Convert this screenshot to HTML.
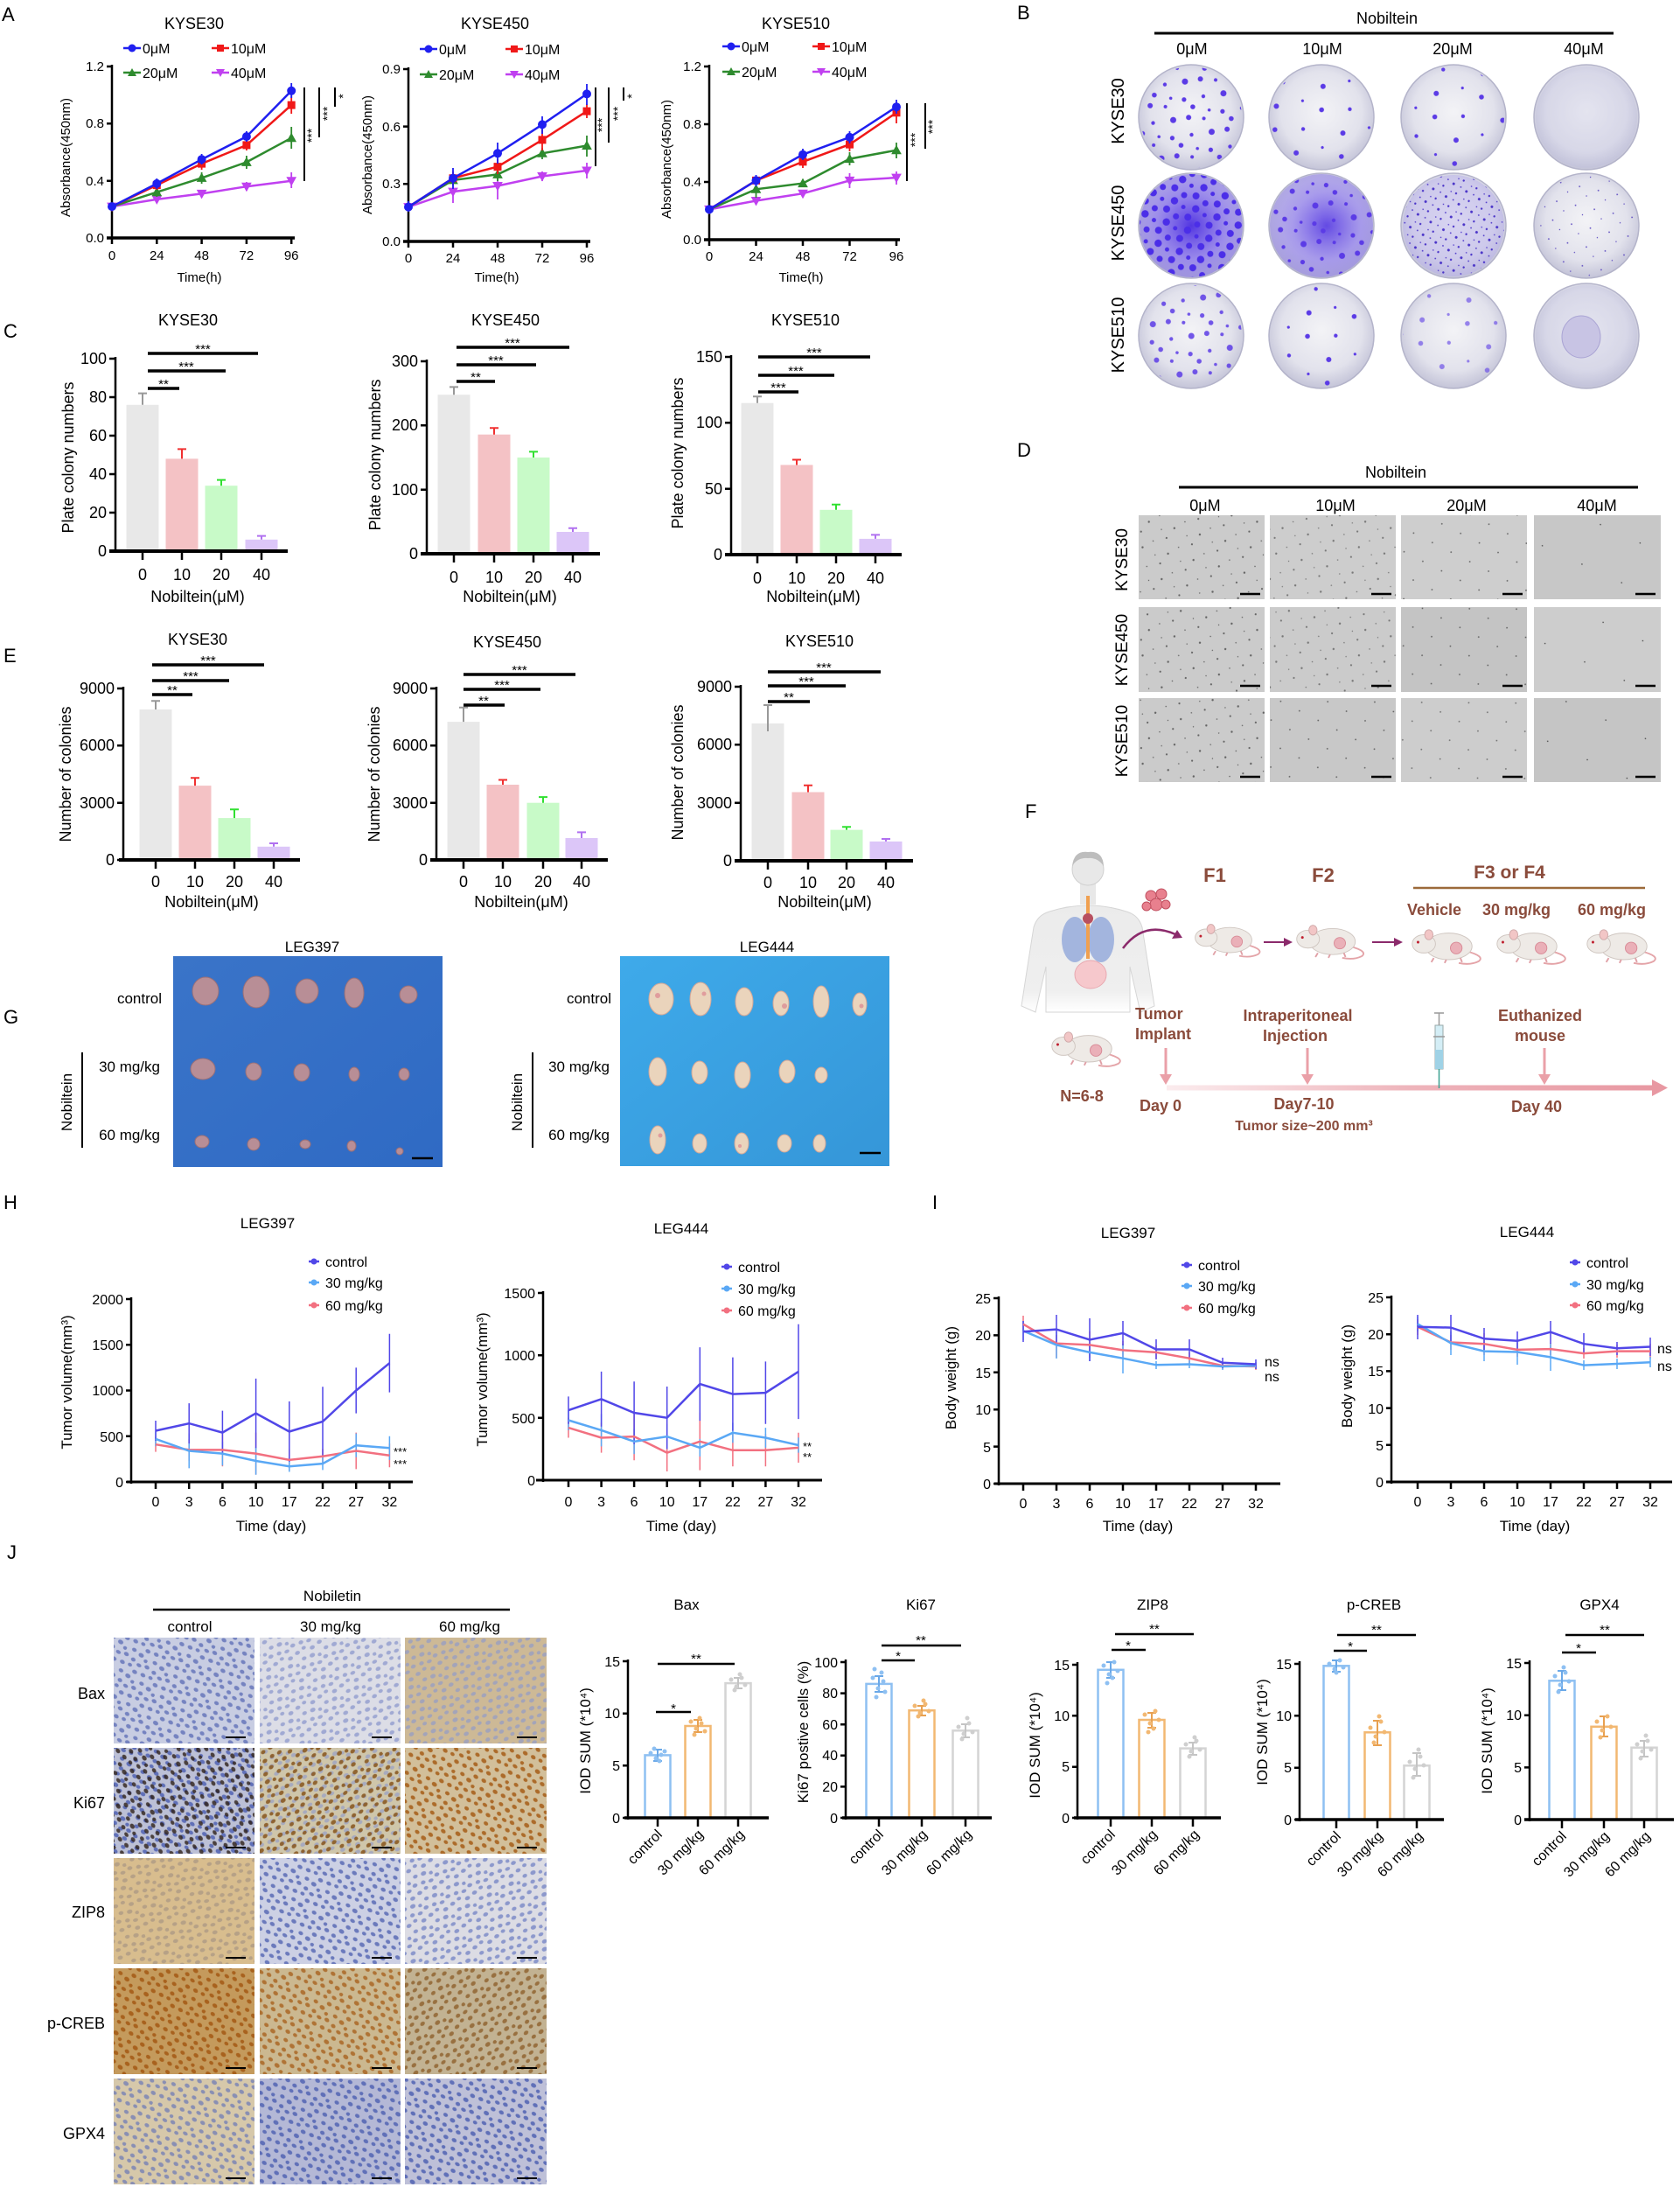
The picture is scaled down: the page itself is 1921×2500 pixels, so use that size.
<!DOCTYPE html>
<html><head><meta charset="utf-8"><style>
html,body{margin:0;padding:0;background:#fff;}
svg{display:block;}
text{font-family:"Liberation Sans",Arial,sans-serif;fill:#000;}
.f text{fill:#8a4b3b;font-weight:bold;}
</style></head><body>
<svg xmlns="http://www.w3.org/2000/svg" width="1921" height="2500" viewBox="0 0 1921 2500">
<defs>
<circle id="mc" r="4.5"/>
<path id="ms" d="M-4,-4h8v8h-8z"/>
<path id="mt" d="M0,-5L5,4H-5z"/>
<path id="mv" d="M0,5L5,-4H-5z"/>
<radialGradient id="pl" cx="50%" cy="45%" r="55%"><stop offset="0" stop-color="#f3f3f6"/><stop offset="0.7" stop-color="#e2e2ec"/><stop offset="1" stop-color="#c4c4d8"/></radialGradient>
<radialGradient id="heavy" cx="50%" cy="50%" r="55%"><stop offset="0" stop-color="#4a2ce0" stop-opacity="0.95"/><stop offset="0.6" stop-color="#6a50e8" stop-opacity="0.6"/><stop offset="1" stop-color="#7a66e0" stop-opacity="0.45"/></radialGradient>
<radialGradient id="heavy2" cx="55%" cy="50%" r="55%"><stop offset="0" stop-color="#4a2ce0" stop-opacity="0.85"/><stop offset="0.6" stop-color="#6a50e8" stop-opacity="0.5"/><stop offset="1" stop-color="#7a66e0" stop-opacity="0.4"/></radialGradient>
<pattern id="cb1" width="46" height="46" patternUnits="userSpaceOnUse" patternTransform="rotate(17)"><g fill="#5b3be6"><circle cx="5" cy="7" r="3"/><circle cx="22" cy="3" r="2"/><circle cx="35" cy="15" r="3.5"/><circle cx="14" cy="25" r="2.2"/><circle cx="40" cy="35" r="2.6"/><circle cx="25" cy="38" r="1.8"/><circle cx="6" cy="40" r="2.8"/></g></pattern>
<pattern id="cb2" width="58" height="58" patternUnits="userSpaceOnUse" patternTransform="rotate(-23)"><g fill="#5b3be6"><circle cx="8" cy="10" r="2.8"/><circle cx="38" cy="22" r="2.2"/><circle cx="20" cy="44" r="3"/><circle cx="50" cy="50" r="1.6"/></g></pattern>
<pattern id="cb3" width="17" height="17" patternUnits="userSpaceOnUse" patternTransform="rotate(31)"><g fill="#4a34c8"><circle cx="3" cy="4" r="1.5"/><circle cx="11" cy="12" r="1.2"/><circle cx="12" cy="3" r="0.9"/><circle cx="5" cy="13" r="0.8"/></g></pattern>
<pattern id="cb4" width="22" height="22" patternUnits="userSpaceOnUse" patternTransform="rotate(12)"><g fill="#5a48c0"><circle cx="7" cy="9" r="0.9"/><circle cx="17" cy="18" r="0.7"/></g></pattern>
<pattern id="cb5" width="26" height="26" patternUnits="userSpaceOnUse" patternTransform="rotate(21)"><g fill="#4b2ee8"><circle cx="5" cy="5" r="4"/><circle cx="18" cy="9" r="3.5"/><circle cx="10" cy="19" r="4.2"/><circle cx="22" cy="22" r="2.5"/></g></pattern>
<pattern id="d1" width="30" height="30" patternUnits="userSpaceOnUse" patternTransform="rotate(14)"><g fill="#4a4a4a"><circle cx="3" cy="4" r="1.1"/><circle cx="19" cy="11" r="0.8"/><circle cx="9" cy="21" r="1.2"/><circle cx="25" cy="26" r="0.7"/></g></pattern>
<pattern id="d2" width="34" height="34" patternUnits="userSpaceOnUse" patternTransform="rotate(-18)"><g fill="#444"><circle cx="6" cy="8" r="0.9"/><circle cx="23" cy="25" r="0.9"/></g></pattern>
<pattern id="d3" width="50" height="50" patternUnits="userSpaceOnUse" patternTransform="rotate(25)"><circle cx="12" cy="20" r="0.8" fill="#444"/></pattern>
<g id="nuc"><ellipse cx="4" cy="5" rx="3" ry="2.2"/><ellipse cx="13" cy="3" rx="2.6" ry="2"/><ellipse cx="22" cy="7" rx="3" ry="2.3"/><ellipse cx="8" cy="14" rx="2.8" ry="2.1"/><ellipse cx="18" cy="15" rx="3.2" ry="2.4"/><ellipse cx="26" cy="18" rx="2.4" ry="2"/><ellipse cx="3" cy="23" rx="3" ry="2.2"/><ellipse cx="13" cy="24" rx="2.8" ry="2.2"/><ellipse cx="22" cy="26" rx="3" ry="2"/></g>
<pattern id="nBlue" width="28" height="28" patternUnits="userSpaceOnUse" patternTransform="rotate(33)"><use href="#nuc" fill="#6070b8"/></pattern>
<pattern id="nLBlue" width="28" height="28" patternUnits="userSpaceOnUse" patternTransform="translate(7,11) rotate(-27)"><use href="#nuc" fill="#8c98cc"/></pattern>
<pattern id="nBrown" width="28" height="28" patternUnits="userSpaceOnUse" patternTransform="translate(3,5) rotate(-40)"><use href="#nuc" fill="#8a5a24"/></pattern>
<pattern id="nDark" width="28" height="28" patternUnits="userSpaceOnUse" patternTransform="translate(13,9) rotate(55)"><use href="#nuc" fill="#2e2018"/></pattern>
<pattern id="nOrange" width="28" height="28" patternUnits="userSpaceOnUse" patternTransform="translate(5,2) rotate(38)"><use href="#nuc" fill="#a8621e"/></pattern>
<pattern id="nTan" width="28" height="28" patternUnits="userSpaceOnUse" patternTransform="translate(9,4) rotate(-15)"><use href="#nuc" fill="#9a8a80"/></pattern>
<linearGradient id="tl" x1="0" x2="1" y1="0" y2="0"><stop offset="0" stop-color="#fbecee"/><stop offset="0.5" stop-color="#eeb4bb"/><stop offset="1" stop-color="#e898a2"/></linearGradient>
<linearGradient id="g397" x1="0" x2="1" y1="0" y2="1"><stop offset="0" stop-color="#3a74c8"/><stop offset="1" stop-color="#2f6ac4"/></linearGradient>
<linearGradient id="g444" x1="0" x2="1" y1="0" y2="1"><stop offset="0" stop-color="#3eaaea"/><stop offset="1" stop-color="#3596d8"/></linearGradient>
<linearGradient id="torso" x1="0" x2="0" y1="0" y2="1"><stop offset="0" stop-color="#ebebeb"/><stop offset="0.8" stop-color="#efefef"/><stop offset="1" stop-color="#ffffff"/></linearGradient>
<g id="mouse">
<path d="M70,30 Q92,36 84,42 Q74,47 60,44" fill="none" stroke="#e4a4a8" stroke-width="2"/>
<ellipse cx="48" cy="24" rx="28" ry="16" fill="#eeeae6" stroke="#cfc6c0" stroke-width="1"/>
<ellipse cx="18" cy="21" rx="14" ry="11" fill="#eeeae6" stroke="#cfc6c0" stroke-width="1"/>
<ellipse cx="24" cy="10" rx="5" ry="6" fill="#f2c6c6" stroke="#cfa8a8" stroke-width="1"/>
<circle cx="11" cy="19" r="1.6" fill="#c02030"/>
<circle cx="57" cy="26" r="7" fill="#eab0b8" stroke="#d88a96" stroke-width="1"/>
<path d="M30,38 l-3,5 M45,40 l-2,4 M62,38 l2,5" stroke="#e0a0a6" stroke-width="2"/>
</g>
</defs>

<!-- ================= PANEL A ================= -->
<text x="2" y="24" font-size="22">A</text>
<g font-size="18" text-anchor="middle"><text x="222" y="33">KYSE30</text><text x="566" y="33">KYSE450</text><text x="910" y="33">KYSE510</text></g>
<g font-size="16">
<path d="M141,55h20" stroke="#1f1ff0" stroke-width="2.5"/><use href="#mc" x="151" y="55" fill="#1f1ff0"/><text x="163" y="61">0μM</text>
<path d="M242,55h20" stroke="#f01818" stroke-width="2.5"/><use href="#ms" x="252" y="55" fill="#f01818"/><text x="264" y="61">10μM</text>
<path d="M141,83h20" stroke="#2e8b2e" stroke-width="2.5"/><use href="#mt" x="151" y="83" fill="#2e8b2e"/><text x="163" y="89">20μM</text>
<path d="M242,83h20" stroke="#c040f0" stroke-width="2.5"/><use href="#mv" x="252" y="83" fill="#c040f0"/><text x="264" y="89">40μM</text>
<path d="M480,56h20" stroke="#1f1ff0" stroke-width="2.5"/><use href="#mc" x="490" y="56" fill="#1f1ff0"/><text x="502" y="62">0μM</text>
<path d="M578,56h20" stroke="#f01818" stroke-width="2.5"/><use href="#ms" x="588" y="56" fill="#f01818"/><text x="600" y="62">10μM</text>
<path d="M480,85h20" stroke="#2e8b2e" stroke-width="2.5"/><use href="#mt" x="490" y="85" fill="#2e8b2e"/><text x="502" y="91">20μM</text>
<path d="M578,85h20" stroke="#c040f0" stroke-width="2.5"/><use href="#mv" x="588" y="85" fill="#c040f0"/><text x="600" y="91">40μM</text>
<path d="M826,53h20" stroke="#1f1ff0" stroke-width="2.5"/><use href="#mc" x="836" y="53" fill="#1f1ff0"/><text x="848" y="59">0μM</text>
<path d="M929,53h20" stroke="#f01818" stroke-width="2.5"/><use href="#ms" x="939" y="53" fill="#f01818"/><text x="951" y="59">10μM</text>
<path d="M826,82h20" stroke="#2e8b2e" stroke-width="2.5"/><use href="#mt" x="836" y="82" fill="#2e8b2e"/><text x="848" y="88">20μM</text>
<path d="M929,82h20" stroke="#c040f0" stroke-width="2.5"/><use href="#mv" x="939" y="82" fill="#c040f0"/><text x="951" y="88">40μM</text>
</g>
<!-- axes A -->
<g stroke="#000" fill="none" stroke-width="2.5">
<path d="M128,74V273M122,76h6M122,141.3h6M122,206.7h6M122,272h6"/>
<path d="M122,272H337" stroke-width="3.5"/>
<path d="M128,272v7M179.3,272v7M230.6,272v7M281.9,272v7M333.2,272v7"/>
<path d="M467,77V277M461,79h6M461,144.6h6M461,210.3h6M461,276h6"/>
<path d="M461,276H675" stroke-width="3.5"/>
<path d="M467,276v7M518,276v7M569,276v7M620,276v7M671,276v7"/>
<path d="M811,74V275M805,76h6M805,142h6M805,208h6M805,274h6"/>
<path d="M805,274H1029" stroke-width="3.5"/>
<path d="M811,274v7M864.5,274v7M918,274v7M971.5,274v7M1025,274v7"/>
<path d="M348,100V207M365,100V157M383,100V122" stroke-width="2"/>
<path d="M681,100V190M696,100V163M713,100V115" stroke-width="2"/>
<path d="M1037,118V207M1058,118V170" stroke-width="2"/>
</g>
<g font-size="15" text-anchor="end"><text x="119" y="81">1.2</text><text x="119" y="146">0.8</text><text x="119" y="212">0.4</text><text x="119" y="277">0.0</text>
<text x="458" y="84">0.9</text><text x="458" y="150">0.6</text><text x="458" y="215">0.3</text><text x="458" y="281">0.0</text>
<text x="802" y="81">1.2</text><text x="802" y="147">0.8</text><text x="802" y="213">0.4</text><text x="802" y="279">0.0</text></g>
<g font-size="15" text-anchor="middle"><text x="128" y="297">0</text><text x="179.3" y="297">24</text><text x="230.6" y="297">48</text><text x="281.9" y="297">72</text><text x="333.2" y="297">96</text>
<text x="467" y="300">0</text><text x="518" y="300">24</text><text x="569" y="300">48</text><text x="620" y="300">72</text><text x="671" y="300">96</text>
<text x="811" y="298">0</text><text x="864.5" y="298">24</text><text x="918" y="298">48</text><text x="971.5" y="298">72</text><text x="1025" y="298">96</text>
<text x="228" y="322">Time(h)</text><text x="568" y="322">Time(h)</text><text x="916" y="322">Time(h)</text>
<text transform="translate(80,180) rotate(-90)">Absorbance(450nm)</text>
<text transform="translate(425,177) rotate(-90)">Absorbance(450nm)</text>
<text transform="translate(767,182) rotate(-90)">Absorbance(450nm)</text>
<text transform="translate(361,155) rotate(-90)" font-size="14">***</text>
<text transform="translate(379,130) rotate(-90)" font-size="14">***</text>
<text transform="translate(397,110) rotate(-90)" font-size="14">*</text>
<text transform="translate(693,143) rotate(-90)" font-size="14">***</text>
<text transform="translate(711,130) rotate(-90)" font-size="14">***</text>
<text transform="translate(727,110) rotate(-90)" font-size="14">*</text>
<text transform="translate(1051,160) rotate(-90)" font-size="14">***</text>
<text transform="translate(1071,145) rotate(-90)" font-size="14">***</text>
</g>
<!-- series A1 -->
<g stroke="#c040f0" fill="#c040f0"><polyline fill="none" stroke-width="2.5" points="128,236.1 179.3,227.9 230.6,221.4 281.9,213.2 333.2,206.7"/><path fill="none" stroke-width="1.8" d="M179.3,224v8M230.6,217v9M281.9,208v10M333.2,197v18"/><use href="#mv" x="128" y="236.1"/><use href="#mv" x="179.3" y="227.9"/><use href="#mv" x="230.6" y="221.4"/><use href="#mv" x="281.9" y="213.2"/><use href="#mv" x="333.2" y="206.7"/></g>
<g stroke="#2e8b2e" fill="#2e8b2e"><polyline fill="none" stroke-width="2.5" points="128,236.1 179.3,219.7 230.6,203.4 281.9,185.4 333.2,157.7"/><path fill="none" stroke-width="1.8" d="M179.3,214v11M230.6,197v13M281.9,178v15M333.2,145v25"/><use href="#mt" x="179.3" y="219.7"/><use href="#mt" x="230.6" y="203.4"/><use href="#mt" x="281.9" y="185.4"/><use href="#mt" x="333.2" y="157.7"/></g>
<g stroke="#f01818" fill="#f01818"><polyline fill="none" stroke-width="2.5" points="128,236.1 179.3,211.6 230.6,187.1 281.9,165.9 333.2,120.1"/><path fill="none" stroke-width="1.8" d="M179.3,206v11M230.6,180v14M281.9,160v12M333.2,110v20"/><use href="#ms" x="179.3" y="211.6"/><use href="#ms" x="230.6" y="187.1"/><use href="#ms" x="281.9" y="165.9"/><use href="#ms" x="333.2" y="120.1"/></g>
<g stroke="#1f1ff0" fill="#1f1ff0"><polyline fill="none" stroke-width="2.5" points="128,236.1 179.3,209.9 230.6,182.2 281.9,156.1 333.2,103.8"/><path fill="none" stroke-width="1.8" d="M179.3,204v12M230.6,176v12M281.9,150v12M333.2,95v17"/><use href="#mc" x="128" y="236.1"/><use href="#mc" x="179.3" y="209.9"/><use href="#mc" x="230.6" y="182.2"/><use href="#mc" x="281.9" y="156.1"/><use href="#mc" x="333.2" y="103.8"/></g>
<!-- series A2 -->
<g stroke="#c040f0" fill="#c040f0"><polyline fill="none" stroke-width="2.5" points="467,236.6 518,219.1 569,212.5 620,201.5 671,195"/><path fill="none" stroke-width="1.8" d="M518,206v26M569,198v30M620,196v11M671,186v18"/><use href="#mv" x="467" y="236.6"/><use href="#mv" x="518" y="219.1"/><use href="#mv" x="569" y="212.5"/><use href="#mv" x="620" y="201.5"/><use href="#mv" x="671" y="195"/></g>
<g stroke="#2e8b2e" fill="#2e8b2e"><polyline fill="none" stroke-width="2.5" points="467,236.6 518,205.9 569,199.4 620,175.3 671,166.5"/><path fill="none" stroke-width="1.8" d="M518,200v12M569,192v15M620,169v13M671,155v24"/><use href="#mt" x="518" y="205.9"/><use href="#mt" x="569" y="199.4"/><use href="#mt" x="620" y="175.3"/><use href="#mt" x="671" y="166.5"/></g>
<g stroke="#f01818" fill="#f01818"><polyline fill="none" stroke-width="2.5" points="467,236.6 518,203.7 569,190.6 620,159.9 671,127.1"/><path fill="none" stroke-width="1.8" d="M518,196v15M569,182v17M620,148v24M671,119v16"/><use href="#ms" x="518" y="203.7"/><use href="#ms" x="569" y="190.6"/><use href="#ms" x="620" y="159.9"/><use href="#ms" x="671" y="127.1"/></g>
<g stroke="#1f1ff0" fill="#1f1ff0"><polyline fill="none" stroke-width="2.5" points="467,236.6 518,203.7 569,175.3 620,142.4 671,107.4"/><path fill="none" stroke-width="1.8" d="M467,230v12M518,192v24M569,163v24M620,133v20M671,96v24"/><use href="#mc" x="467" y="236.6"/><use href="#mc" x="518" y="203.7"/><use href="#mc" x="569" y="175.3"/><use href="#mc" x="620" y="142.4"/><use href="#mc" x="671" y="107.4"/></g>
<!-- series A3 -->
<g stroke="#c040f0" fill="#c040f0"><polyline fill="none" stroke-width="2.5" points="811,239.4 864.5,229.5 918,221.2 971.5,206.4 1025,203.1"/><path fill="none" stroke-width="1.8" d="M864.5,225v9M918,217v8M971.5,198v17M1025,196v15"/><use href="#mv" x="811" y="239.4"/><use href="#mv" x="864.5" y="229.5"/><use href="#mv" x="918" y="221.2"/><use href="#mv" x="971.5" y="206.4"/><use href="#mv" x="1025" y="203.1"/></g>
<g stroke="#2e8b2e" fill="#2e8b2e"><polyline fill="none" stroke-width="2.5" points="811,239.4 864.5,216.3 918,209.6 971.5,181.6 1025,171.7"/><path fill="none" stroke-width="1.8" d="M864.5,206v20M918,205v9M971.5,174v15M1025,163v18"/><use href="#mt" x="864.5" y="216.3"/><use href="#mt" x="918" y="209.6"/><use href="#mt" x="971.5" y="181.6"/><use href="#mt" x="1025" y="171.7"/></g>
<g stroke="#f01818" fill="#f01818"><polyline fill="none" stroke-width="2.5" points="811,239.4 864.5,206.4 918,184.9 971.5,165.1 1025,128.8"/><path fill="none" stroke-width="1.8" d="M918,178v14M971.5,158v15M1025,117v24"/><use href="#ms" x="864.5" y="206.4"/><use href="#ms" x="918" y="184.9"/><use href="#ms" x="971.5" y="165.1"/><use href="#ms" x="1025" y="128.8"/></g>
<g stroke="#1f1ff0" fill="#1f1ff0"><polyline fill="none" stroke-width="2.5" points="811,239.4 864.5,206.4 918,176.7 971.5,156.9 1025,122.2"/><path fill="none" stroke-width="1.8" d="M864.5,200v13M918,170v13M971.5,150v14M1025,114v16"/><use href="#mc" x="811" y="239.4"/><use href="#mc" x="864.5" y="206.4"/><use href="#mc" x="918" y="176.7"/><use href="#mc" x="971.5" y="156.9"/><use href="#mc" x="1025" y="122.2"/></g>

<!-- ================= PANEL B ================= -->
<text x="1163" y="22" font-size="22">B</text>
<text x="1586" y="27" font-size="18" text-anchor="middle">Nobiltein</text>
<path d="M1320,38H1845" stroke="#000" stroke-width="3"/>
<g font-size="18" text-anchor="middle"><text x="1363" y="62">0μM</text><text x="1512" y="62">10μM</text><text x="1661" y="62">20μM</text><text x="1811" y="62">40μM</text>
<text transform="translate(1285,127) rotate(-90)" font-size="20">KYSE30</text>
<text transform="translate(1285,255) rotate(-90)" font-size="20">KYSE450</text>
<text transform="translate(1285,383) rotate(-90)" font-size="20">KYSE510</text></g>
<g stroke="#b4b4ca" stroke-width="1.5" fill="url(#pl)">
<ellipse cx="1362" cy="134" rx="60" ry="60"/><ellipse cx="1511" cy="134" rx="60" ry="60"/><ellipse cx="1662" cy="134" rx="60" ry="60"/><ellipse cx="1814" cy="134" rx="60" ry="60"/>
<ellipse cx="1362" cy="258" rx="60" ry="60"/><ellipse cx="1511" cy="258" rx="60" ry="60"/><ellipse cx="1662" cy="258" rx="60" ry="60"/><ellipse cx="1814" cy="258" rx="60" ry="60"/>
<ellipse cx="1362" cy="384" rx="60" ry="60"/><ellipse cx="1511" cy="384" rx="60" ry="60"/><ellipse cx="1662" cy="384" rx="60" ry="60"/><ellipse cx="1814" cy="384" rx="60" ry="60"/>
</g>
<g stroke="none">
<ellipse cx="1362" cy="134" rx="58" ry="58" fill="url(#cb1)"/>
<ellipse cx="1511" cy="134" rx="58" ry="58" fill="url(#cb2)"/>
<ellipse cx="1662" cy="134" rx="58" ry="58" fill="url(#cb2)"/>
<ellipse cx="1814" cy="134" rx="58" ry="58" fill="#b8b8dc" opacity="0.25"/>
<ellipse cx="1362" cy="258" rx="59" ry="59" fill="url(#heavy)"/>
<ellipse cx="1362" cy="258" rx="59" ry="59" fill="url(#cb5)"/>
<ellipse cx="1511" cy="258" rx="59" ry="59" fill="url(#heavy2)"/>
<ellipse cx="1511" cy="258" rx="59" ry="59" fill="url(#cb1)"/>
<ellipse cx="1662" cy="258" rx="58" ry="58" fill="#b0a6ea" opacity="0.4"/>
<ellipse cx="1662" cy="258" rx="58" ry="58" fill="url(#cb3)"/>
<ellipse cx="1814" cy="258" rx="58" ry="58" fill="url(#cb4)"/>
<ellipse cx="1362" cy="384" rx="58" ry="58" fill="url(#cb1)" opacity="0.85"/>
<ellipse cx="1511" cy="384" rx="58" ry="58" fill="url(#cb2)"/>
<ellipse cx="1662" cy="384" rx="58" ry="58" fill="url(#cb2)" opacity="0.6"/>
<ellipse cx="1814" cy="384" rx="58" ry="58" fill="#b8b8dc" opacity="0.25"/>
<ellipse cx="1808" cy="385" rx="22" ry="24" fill="#c8c4e4" stroke="#aaa4d4"/>
</g>

<!-- ================= PANEL C ================= -->
<text x="4" y="386" font-size="22">C</text>
<g font-size="18" text-anchor="middle"><text x="215" y="372">KYSE30</text><text x="578" y="372">KYSE450</text><text x="921" y="372">KYSE510</text>
<text x="226" y="688">Nobiltein(μM)</text><text x="583" y="688">Nobiltein(μM)</text><text x="930" y="688">Nobiltein(μM)</text>
<text transform="translate(84,523) rotate(-90)">Plate colony numbers</text>
<text transform="translate(435,520) rotate(-90)">Plate colony numbers</text>
<text transform="translate(781,518) rotate(-90)">Plate colony numbers</text></g>
<rect x="144.5" y="462.8" width="37" height="167.2" fill="#e8e8e8"/>
<rect x="189.5" y="524.4" width="37" height="105.6" fill="#f4c2c5"/>
<rect x="234.5" y="555.2" width="37" height="74.8" fill="#c8fac8"/>
<rect x="280.5" y="616.8" width="37" height="13.2" fill="#dcc6f8"/>
<rect x="500.5" y="451.2" width="37" height="181.8" fill="#e8e8e8"/>
<rect x="546.5" y="496.7" width="37" height="136.3" fill="#f4c2c5"/>
<rect x="591.5" y="523" width="37" height="110" fill="#c8fac8"/>
<rect x="636.5" y="608" width="37" height="25" fill="#dcc6f8"/>
<rect x="847.5" y="460.7" width="37" height="173.3" fill="#e8e8e8"/>
<rect x="892.5" y="531.5" width="37" height="102.5" fill="#f4c2c5"/>
<rect x="937.5" y="582.8" width="37" height="51.2" fill="#c8fac8"/>
<rect x="982.5" y="615.9" width="37" height="18.1" fill="#dcc6f8"/>
<g stroke-width="2" fill="none">
<path d="M163,462.8V449.6M158,449.6h10M519,451.2V442.4M514,442.4h10M866,460.7V453.2M861,453.2h10" stroke="#999"/>
<path d="M208,524.4V513.4M203,513.4h10M565,496.7V489.3M560,489.3h10M911,531.5V525.5M906,525.5h10" stroke="#f03030"/>
<path d="M253,555.2V548.6M248,548.6h10M610,523V516.4M605,516.4h10M956,582.8V576.7M951,576.7h10" stroke="#30e030"/>
<path d="M299,616.8V612.6M294,612.6h10M655,608V603.7M650,603.7h10M1001,615.9V611.4M996,611.4h10" stroke="#b070f0"/>
</g>
<g stroke="#000" fill="none" stroke-width="2.5">
<path d="M132,408V632M125,630h7M125,586h7M125,542h7M125,498h7M125,454h7M125,410h7"/>
<path d="M125,630H329" stroke-width="4"/>
<path d="M163,630v10M208,630v10M253,630v10M299,630v10"/>
<path d="M488,411V635M481,633h7M481,559.7h7M481,486.3h7M481,413h7"/>
<path d="M481,633H686" stroke-width="4"/>
<path d="M519,633v10M565,633v10M610,633v10M655,633v10"/>
<path d="M836,406V636M829,634h7M829,558.7h7M829,483.3h7M829,408h7"/>
<path d="M829,634H1031" stroke-width="4"/>
<path d="M866,634v10M911,634v10M956,634v10M1001,634v10"/>
<path d="M169,444H205M169,424H258M169,404H295M522,436H566M522,417H613M522,397H651M867,448H913M867,429H954M867,408H995" stroke-width="3.5"/>
</g>
<g font-size="18" text-anchor="end"><text x="122" y="636">0</text><text x="122" y="592">20</text><text x="122" y="548">40</text><text x="122" y="504">60</text><text x="122" y="460">80</text><text x="122" y="416">100</text>
<text x="478" y="639">0</text><text x="478" y="566">100</text><text x="478" y="492">200</text><text x="478" y="419">300</text>
<text x="826" y="640">0</text><text x="826" y="565">50</text><text x="826" y="489">100</text><text x="826" y="414">150</text></g>
<g font-size="18" text-anchor="middle"><text x="163" y="663">0</text><text x="208" y="663">10</text><text x="253" y="663">20</text><text x="299" y="663">40</text>
<text x="519" y="666">0</text><text x="565" y="666">10</text><text x="610" y="666">20</text><text x="655" y="666">40</text>
<text x="866" y="667">0</text><text x="911" y="667">10</text><text x="956" y="667">20</text><text x="1001" y="667">40</text></g>
<g font-size="15" text-anchor="middle"><text x="187" y="444">**</text><text x="213" y="424">***</text><text x="232" y="404">***</text>
<text x="544" y="436">**</text><text x="567" y="417">***</text><text x="586" y="397">***</text>
<text x="890" y="448">***</text><text x="910" y="429">***</text><text x="931" y="408">***</text></g>

<!-- ================= PANEL D ================= -->
<text x="1163" y="522" font-size="22">D</text>
<text x="1596" y="546" font-size="18" text-anchor="middle">Nobiltein</text>
<path d="M1348,557H1873" stroke="#000" stroke-width="3"/>
<g font-size="18" text-anchor="middle"><text x="1378" y="584">0μM</text><text x="1527" y="584">10μM</text><text x="1677" y="584">20μM</text><text x="1826" y="584">40μM</text>
<text transform="translate(1289,640) rotate(-90)" font-size="19">KYSE30</text>
<text transform="translate(1289,743) rotate(-90)" font-size="19">KYSE450</text>
<text transform="translate(1289,847) rotate(-90)" font-size="19">KYSE510</text></g>
<g>
<rect x="1302" y="589" width="144" height="96" fill="#cbcbcb"/><rect x="1302" y="589" width="144" height="96" fill="url(#d1)" opacity="0.8"/>
<rect x="1452" y="589" width="144" height="96" fill="#cdcdcd"/><rect x="1452" y="589" width="144" height="96" fill="url(#d1)" opacity="0.65"/>
<rect x="1602" y="589" width="144" height="96" fill="#cecece"/><rect x="1602" y="589" width="144" height="96" fill="url(#d2)" opacity="0.8"/>
<rect x="1754" y="589" width="145" height="96" fill="#c7c7c7"/><rect x="1754" y="589" width="145" height="96" fill="url(#d3)"/>
<rect x="1302" y="694" width="144" height="97" fill="#cbcbcb"/><rect x="1302" y="694" width="144" height="97" fill="url(#d1)" opacity="0.8"/>
<rect x="1452" y="694" width="144" height="97" fill="#cbcbcb"/><rect x="1452" y="694" width="144" height="97" fill="url(#d1)" opacity="0.65"/>
<rect x="1602" y="694" width="144" height="97" fill="#c4c4c4"/><rect x="1602" y="694" width="144" height="97" fill="url(#d2)" opacity="0.8"/>
<rect x="1754" y="694" width="145" height="97" fill="#cdcdcd"/><rect x="1754" y="694" width="145" height="97" fill="url(#d3)"/>
<rect x="1302" y="798" width="144" height="96" fill="#cbcbcb"/><rect x="1302" y="798" width="144" height="96" fill="url(#d1)" opacity="0.8"/>
<rect x="1452" y="798" width="144" height="96" fill="#c8c8c8"/><rect x="1452" y="798" width="144" height="96" fill="url(#d2)" opacity="0.8"/>
<rect x="1602" y="798" width="144" height="96" fill="#cdcdcd"/><rect x="1602" y="798" width="144" height="96" fill="url(#d2)" opacity="0.7"/>
<rect x="1754" y="798" width="145" height="96" fill="#c5c5c5"/><rect x="1754" y="798" width="145" height="96" fill="url(#d3)"/>
</g>
<path d="M1418,679h23M1568,679h23M1718,679h23M1870,679h23M1418,784h23M1568,784h23M1718,784h23M1870,784h23M1418,888h23M1568,888h23M1718,888h23M1870,888h23" stroke="#000" stroke-width="2.5"/>

<!-- ================= PANEL E ================= -->
<text x="4" y="757" font-size="22">E</text>
<g font-size="18" text-anchor="middle"><text x="226" y="737">KYSE30</text><text x="580" y="740">KYSE450</text><text x="937" y="739">KYSE510</text>
<text x="242" y="1037">Nobiltein(μM)</text><text x="596" y="1037">Nobiltein(μM)</text><text x="943" y="1037">Nobiltein(μM)</text>
<text transform="translate(81,885) rotate(-90)">Number of colonies</text>
<text transform="translate(434,885) rotate(-90)">Number of colonies</text>
<text transform="translate(781,883) rotate(-90)">Number of colonies</text></g>
<rect x="159.5" y="811" width="37" height="172" fill="#e8e8e8"/>
<rect x="204.5" y="898.1" width="37" height="84.9" fill="#f4c2c5"/>
<rect x="249.5" y="935.1" width="37" height="47.9" fill="#c8fac8"/>
<rect x="294.5" y="967.8" width="37" height="15.2" fill="#dcc6f8"/>
<rect x="511.5" y="825.1" width="37" height="157.9" fill="#e8e8e8"/>
<rect x="556.5" y="897" width="37" height="86" fill="#f4c2c5"/>
<rect x="602.5" y="917.7" width="37" height="65.3" fill="#c8fac8"/>
<rect x="646.5" y="958" width="37" height="25" fill="#dcc6f8"/>
<rect x="859.5" y="827" width="37" height="157" fill="#e8e8e8"/>
<rect x="905.5" y="905.5" width="37" height="78.5" fill="#f4c2c5"/>
<rect x="949.5" y="948.6" width="37" height="35.4" fill="#c8fac8"/>
<rect x="994.5" y="961.9" width="37" height="22.1" fill="#dcc6f8"/>
<g stroke-width="2" fill="none">
<path d="M178,811V801.2M173,801.2h10M530,825.1V808.8M525,808.8h10M878,836V806M873,806h10" stroke="#999"/>
<path d="M223,898.1V889.3M218,889.3h10M575,897V891.5M570,891.5h10M924,905.5V897.8M919,897.8h10" stroke="#f03030"/>
<path d="M268,935.1V925.3M263,925.3h10M621,917.7V911.1M616,911.1h10M968,948.6V945.3M963,945.3h10" stroke="#30e030"/>
<path d="M313,967.8V964M308,964h10M665,958V951.4M660,951.4h10M1013,961.9V959M1008,959h10" stroke="#b070f0"/>
</g>
<g stroke="#000" fill="none" stroke-width="2.5">
<path d="M141,785V985M134,983h7M134,917.7h7M134,852.3h7M134,787h7"/>
<path d="M136,983H343" stroke-width="4"/>
<path d="M178,983v10M223,983v10M268,983v10M313,983v10"/>
<path d="M499,785V985M492,983h7M492,917.7h7M492,852.3h7M492,787h7"/>
<path d="M492,983H695" stroke-width="4"/>
<path d="M530,983v10M575,983v10M621,983v10M665,983v10"/>
<path d="M847,783V986M840,984h7M840,917.7h7M840,851.3h7M840,785h7"/>
<path d="M840,984H1044" stroke-width="4"/>
<path d="M878,984v10M924,984v10M968,984v10M1013,984v10"/>
<path d="M174,794H220M174,778H262M174,760H302M530,806H577M530,788H618M530,771H658M878,802H926M878,784H967M878,768H1007" stroke-width="3.5"/>
</g>
<g font-size="18" text-anchor="end"><text x="131" y="989">0</text><text x="131" y="924">3000</text><text x="131" y="858">6000</text><text x="131" y="793">9000</text>
<text x="489" y="989">0</text><text x="489" y="924">3000</text><text x="489" y="858">6000</text><text x="489" y="793">9000</text>
<text x="837" y="990">0</text><text x="837" y="924">3000</text><text x="837" y="857">6000</text><text x="837" y="791">9000</text></g>
<g font-size="18" text-anchor="middle"><text x="178" y="1014">0</text><text x="223" y="1014">10</text><text x="268" y="1014">20</text><text x="313" y="1014">40</text>
<text x="530" y="1014">0</text><text x="575" y="1014">10</text><text x="621" y="1014">20</text><text x="665" y="1014">40</text>
<text x="878" y="1015">0</text><text x="924" y="1015">10</text><text x="968" y="1015">20</text><text x="1013" y="1015">40</text></g>
<g font-size="15" text-anchor="middle"><text x="197" y="794">**</text><text x="218" y="778">***</text><text x="238" y="760">***</text>
<text x="553" y="806">**</text><text x="574" y="788">***</text><text x="594" y="771">***</text>
<text x="902" y="802">**</text><text x="922" y="784">***</text><text x="942" y="768">***</text></g>

<!-- ================= PANEL F ================= -->
<text x="1172" y="935" font-size="22">F</text>
<g>
<path d="M1200,1042 Q1244,1028 1288,1042 Q1302,1046 1306,1060 Q1314,1110 1320,1150 L1304,1157 L1292,1105 L1292,1157 L1196,1157 L1196,1105 L1184,1157 L1168,1150 Q1174,1110 1182,1060 Q1186,1046 1200,1042 Z" fill="url(#torso)" stroke="#d6d6d6" stroke-width="1"/>
<rect x="1235" y="1010" width="18" height="24" fill="#e8e8e8"/>
<ellipse cx="1244" cy="994" rx="18" ry="18" fill="#e8e8e8" stroke="#d0d0d0"/>
<path d="M1226,990 Q1228,972 1244,974 Q1261,972 1262,990 Q1255,980 1244,981 Q1232,980 1226,990Z" fill="#bdbdbd"/>
<ellipse cx="1229" cy="1074" rx="15" ry="26" fill="#a3b5de"/>
<ellipse cx="1259" cy="1074" rx="15" ry="26" fill="#a3b5de"/>
<path d="M1244,1024V1096" stroke="#f0a050" stroke-width="4"/>
<circle cx="1244" cy="1050" r="6" fill="#b85060"/>
<ellipse cx="1247" cy="1114" rx="18" ry="16" fill="#f6c8cc" stroke="#e8a8b0"/>
<g fill="#e8808e" stroke="#c05060" stroke-width="1"><circle cx="1316" cy="1024" r="6"/><circle cx="1328" cy="1022" r="6"/><circle cx="1322" cy="1034" r="7"/><circle cx="1311" cy="1036" r="5"/><circle cx="1333" cy="1034" r="5"/></g>
<path d="M1284,1084 Q1308,1052 1344,1068" fill="none" stroke="#8b2a6b" stroke-width="2.5"/>
<path d="M1352,1072 L1340,1073 L1346,1063Z" fill="#8b2a6b"/>
<path d="M1445,1077H1470M1569,1077H1596" stroke="#8b2a6b" stroke-width="2"/>
<path d="M1478,1077L1468,1072V1082Z M1604,1077L1594,1072V1082Z" fill="#8b2a6b"/>
<use href="#mouse" transform="translate(1363,1053) scale(0.9)"/>
<use href="#mouse" transform="translate(1479,1054) scale(0.93)"/>
<use href="#mouse" transform="translate(1611,1059) scale(0.95)"/>
<use href="#mouse" transform="translate(1708,1059) scale(0.95)"/>
<use href="#mouse" transform="translate(1811,1059) scale(0.95)"/>
<use href="#mouse" transform="translate(1199,1176) scale(0.95)"/>
<path d="M1616,1015H1881" stroke="#9c6a3a" stroke-width="2.5"/>
<rect x="1334" y="1240.5" width="558" height="6" fill="url(#tl)"/>
<path d="M1889,1234 L1907,1243.5 L1889,1253Z" fill="#e898a2"/>
<g stroke="#eaa0a8" stroke-width="3"><path d="M1333,1198V1232M1495,1198V1232M1766,1198V1232"/></g>
<g fill="#eaa0a8"><path d="M1326,1228H1340L1333,1240Z M1488,1228H1502L1495,1240Z M1759,1228H1773L1766,1240Z"/></g>
<rect x="1641" y="1172" width="9" height="50" fill="#d4eef6" stroke="#9aa" stroke-width="1"/>
<rect x="1641" y="1200" width="9" height="22" fill="#9fd2e6"/>
<path d="M1645.5,1158V1172M1640,1158h11M1639,1185h13" stroke="#999" stroke-width="1.5"/>
<path d="M1645.5,1222V1244" stroke="#3aa090" stroke-width="1.5"/>
</g>
<g class="f" text-anchor="middle">
<text x="1389" y="1008" font-size="22">F1</text>
<text x="1513" y="1008" font-size="22">F2</text>
<text x="1726" y="1004" font-size="21">F3 or F4</text>
<text x="1640" y="1046" font-size="18">Vehicle</text>
<text x="1734" y="1046" font-size="18">30 mg/kg</text>
<text x="1843" y="1046" font-size="18">60 mg/kg</text>
<text x="1298" y="1165" font-size="18" text-anchor="start">Tumor</text>
<text x="1298" y="1188" font-size="18" text-anchor="start">Implant</text>
<text x="1484" y="1167" font-size="18">Intraperitoneal</text>
<text x="1481" y="1190" font-size="18">Injection</text>
<text x="1761" y="1167" font-size="18">Euthanized</text>
<text x="1761" y="1190" font-size="18">mouse</text>
<text x="1237" y="1259" font-size="18">N=6-8</text>
<text x="1327" y="1270" font-size="18">Day 0</text>
<text x="1491" y="1268" font-size="18">Day7-10</text>
<text x="1491" y="1292" font-size="16">Tumor size~200 mm³</text>
<text x="1757" y="1271" font-size="18">Day 40</text>
</g>

<!-- ================= PANEL G ================= -->
<text x="4" y="1170" font-size="22">G</text>
<g font-size="17" text-anchor="middle"><text x="357" y="1088">LEG397</text><text x="877" y="1088">LEG444</text></g>
<rect x="198" y="1093" width="308" height="241" fill="url(#g397)"/>
<rect x="709" y="1093" width="308" height="240" fill="url(#g444)"/>
<g fill="#b88e96" stroke="#9a7078" stroke-width="1">
<ellipse cx="235" cy="1133" rx="15" ry="16"/><ellipse cx="293" cy="1134" rx="15" ry="18"/><ellipse cx="351" cy="1133" rx="13" ry="14"/><ellipse cx="405" cy="1135" rx="11" ry="17"/><ellipse cx="467" cy="1137" rx="10" ry="10"/>
<ellipse cx="232" cy="1222" rx="14" ry="12"/><ellipse cx="290" cy="1225" rx="9" ry="10"/><ellipse cx="345" cy="1226" rx="9" ry="10"/><ellipse cx="405" cy="1228" rx="6" ry="8"/><ellipse cx="462" cy="1228" rx="6" ry="7"/>
<ellipse cx="231" cy="1305" rx="8" ry="7"/><ellipse cx="290" cy="1308" rx="7" ry="7"/><ellipse cx="349" cy="1308" rx="6" ry="5"/><ellipse cx="402" cy="1310" rx="5" ry="6"/><ellipse cx="457" cy="1316" rx="4" ry="4"/>
</g>
<g fill="#ead4bc" stroke="#d4a898" stroke-width="1">
<ellipse cx="756" cy="1142" rx="14" ry="18"/><ellipse cx="801" cy="1142" rx="12" ry="19"/><ellipse cx="851" cy="1145" rx="10" ry="16"/><ellipse cx="893" cy="1147" rx="9" ry="14"/><ellipse cx="939" cy="1145" rx="9" ry="18"/><ellipse cx="983" cy="1148" rx="8" ry="13"/>
<ellipse cx="752" cy="1225" rx="10" ry="16"/><ellipse cx="800" cy="1226" rx="9" ry="13"/><ellipse cx="849" cy="1229" rx="9" ry="15"/><ellipse cx="900" cy="1225" rx="9" ry="13"/><ellipse cx="939" cy="1229" rx="7" ry="9"/>
<ellipse cx="752" cy="1303" rx="9" ry="16"/><ellipse cx="800" cy="1307" rx="8" ry="11"/><ellipse cx="848" cy="1307" rx="8" ry="12"/><ellipse cx="897" cy="1307" rx="8" ry="10"/><ellipse cx="937" cy="1307" rx="7" ry="10"/>
</g>
<g fill="#d87888" opacity="0.6"><circle cx="752" cy="1138" r="3"/><circle cx="805" cy="1136" r="2.5"/><circle cx="897" cy="1150" r="3"/><circle cx="985" cy="1150" r="2.5"/><circle cx="755" cy="1298" r="2.5"/><circle cx="846" cy="1310" r="2"/></g>
<path d="M471,1324H495M983,1318H1007" stroke="#000" stroke-width="2.5"/>
<g font-size="17" text-anchor="end"><text x="185" y="1147">control</text><text x="183" y="1225">30 mg/kg</text><text x="183" y="1303">60 mg/kg</text>
<text x="699" y="1147">control</text><text x="697" y="1225">30 mg/kg</text><text x="697" y="1303">60 mg/kg</text></g>
<path d="M94,1203V1312M609,1203V1312" stroke="#000" stroke-width="2"/>
<g font-size="17" text-anchor="middle"><text transform="translate(82,1260) rotate(-90)">Nobiltein</text><text transform="translate(597,1260) rotate(-90)">Nobiltein</text></g>

<!-- ================= PANEL H / I ================= -->
<text x="4" y="1382" font-size="22">H</text>
<text x="1066" y="1382" font-size="22">I</text>
<g font-size="17" text-anchor="middle"><text x="306" y="1404">LEG397</text><text x="779" y="1410">LEG444</text><text x="1290" y="1415">LEG397</text><text x="1746" y="1414">LEG444</text>
<text x="310" y="1750">Time (day)</text><text x="779" y="1750">Time (day)</text><text x="1301" y="1750">Time (day)</text><text x="1755" y="1750">Time (day)</text>
<text transform="translate(82,1580) rotate(-90)">Tumor volume(mm³)</text>
<text transform="translate(557,1577) rotate(-90)">Tumor volume(mm³)</text>
<text transform="translate(1093,1575) rotate(-90)">Body weight (g)</text>
<text transform="translate(1546,1573) rotate(-90)">Body weight (g)</text></g>
<!-- legends -->
<g font-size="16">
<path d="M353,1442h12" stroke="#5147e8" stroke-width="2.5"/><circle cx="359" cy="1442" r="3.5" fill="#5147e8"/><text x="372" y="1448">control</text>
<path d="M353,1466h12" stroke="#5aa8f5" stroke-width="2.5"/><circle cx="359" cy="1466" r="3.5" fill="#5aa8f5"/><text x="372" y="1472">30 mg/kg</text>
<path d="M353,1492h12" stroke="#f27080" stroke-width="2.5"/><circle cx="359" cy="1492" r="3.5" fill="#f27080"/><text x="372" y="1498">60 mg/kg</text>
<path d="M825,1448h12" stroke="#5147e8" stroke-width="2.5"/><circle cx="831" cy="1448" r="3.5" fill="#5147e8"/><text x="844" y="1454">control</text>
<path d="M825,1473h12" stroke="#5aa8f5" stroke-width="2.5"/><circle cx="831" cy="1473" r="3.5" fill="#5aa8f5"/><text x="844" y="1479">30 mg/kg</text>
<path d="M825,1498h12" stroke="#f27080" stroke-width="2.5"/><circle cx="831" cy="1498" r="3.5" fill="#f27080"/><text x="844" y="1504">60 mg/kg</text>
<path d="M1351,1446h12" stroke="#5147e8" stroke-width="2.5"/><circle cx="1357" cy="1446" r="3.5" fill="#5147e8"/><text x="1370" y="1452">control</text>
<path d="M1351,1470h12" stroke="#5aa8f5" stroke-width="2.5"/><circle cx="1357" cy="1470" r="3.5" fill="#5aa8f5"/><text x="1370" y="1476">30 mg/kg</text>
<path d="M1351,1495h12" stroke="#f27080" stroke-width="2.5"/><circle cx="1357" cy="1495" r="3.5" fill="#f27080"/><text x="1370" y="1501">60 mg/kg</text>
<path d="M1795,1443h12" stroke="#5147e8" stroke-width="2.5"/><circle cx="1801" cy="1443" r="3.5" fill="#5147e8"/><text x="1814" y="1449">control</text>
<path d="M1795,1468h12" stroke="#5aa8f5" stroke-width="2.5"/><circle cx="1801" cy="1468" r="3.5" fill="#5aa8f5"/><text x="1814" y="1474">30 mg/kg</text>
<path d="M1795,1492h12" stroke="#f27080" stroke-width="2.5"/><circle cx="1801" cy="1492" r="3.5" fill="#f27080"/><text x="1814" y="1498">60 mg/kg</text>
</g>
<!-- axes H/I -->
<g stroke="#000" fill="none" stroke-width="2.5">
<path d="M150,1483V1696M144,1694h6M144,1641.75h6M144,1589.5h6M144,1537.25h6M144,1485h6"/>
<path d="M145,1694H472" stroke-width="3"/>
<path d="M178,1694v8M216.2,1694v8M254.4,1694v8M292.6,1694v8M330.8,1694v8M369,1694v8M407.2,1694v8M445.4,1694v8"/>
<path d="M621,1476V1694M615,1692h6M615,1620.7h6M615,1549.3h6M615,1478h6"/>
<path d="M613,1692H940" stroke-width="3"/>
<path d="M650,1692v8M687.6,1692v8M725.1,1692v8M762.7,1692v8M800.3,1692v8M837.9,1692v8M875.4,1692v8M913,1692v8"/>
<path d="M1142,1482V1698M1136,1696h6M1136,1653.6h6M1136,1611.2h6M1136,1568.8h6M1136,1526.4h6M1136,1484h6"/>
<path d="M1137,1696H1464" stroke-width="3"/>
<path d="M1170,1696v8M1208,1696v8M1246,1696v8M1284,1696v8M1322,1696v8M1360,1696v8M1398,1696v8M1436,1696v8"/>
<path d="M1591,1481V1696M1585,1694h6M1585,1651.8h6M1585,1609.6h6M1585,1567.4h6M1585,1525.2h6M1585,1483h6"/>
<path d="M1585,1694H1912" stroke-width="3"/>
<path d="M1621,1694v8M1659,1694v8M1697,1694v8M1735,1694v8M1773,1694v8M1811,1694v8M1849,1694v8M1887,1694v8"/>
</g>
<g font-size="16" text-anchor="end"><text x="141" y="1700">0</text><text x="141" y="1648">500</text><text x="141" y="1595">1000</text><text x="141" y="1543">1500</text><text x="141" y="1491">2000</text>
<text x="612" y="1698">0</text><text x="612" y="1627">500</text><text x="612" y="1555">1000</text><text x="612" y="1484">1500</text>
<text x="1133" y="1702">0</text><text x="1133" y="1660">5</text><text x="1133" y="1617">10</text><text x="1133" y="1575">15</text><text x="1133" y="1532">20</text><text x="1133" y="1490">25</text>
<text x="1582" y="1700">0</text><text x="1582" y="1658">5</text><text x="1582" y="1616">10</text><text x="1582" y="1573">15</text><text x="1582" y="1531">20</text><text x="1582" y="1489">25</text></g>
<g font-size="16" text-anchor="middle">
<text x="178" y="1722">0</text><text x="216.2" y="1722">3</text><text x="254.4" y="1722">6</text><text x="292.6" y="1722">10</text><text x="330.8" y="1722">17</text><text x="369" y="1722">22</text><text x="407.2" y="1722">27</text><text x="445.4" y="1722">32</text>
<text x="650" y="1722">0</text><text x="687.6" y="1722">3</text><text x="725.1" y="1722">6</text><text x="762.7" y="1722">10</text><text x="800.3" y="1722">17</text><text x="837.9" y="1722">22</text><text x="875.4" y="1722">27</text><text x="913" y="1722">32</text>
<text x="1170" y="1724">0</text><text x="1208" y="1724">3</text><text x="1246" y="1724">6</text><text x="1284" y="1724">10</text><text x="1322" y="1724">17</text><text x="1360" y="1724">22</text><text x="1398" y="1724">27</text><text x="1436" y="1724">32</text>
<text x="1621" y="1722">0</text><text x="1659" y="1722">3</text><text x="1697" y="1722">6</text><text x="1735" y="1722">10</text><text x="1773" y="1722">17</text><text x="1811" y="1722">22</text><text x="1849" y="1722">27</text><text x="1887" y="1722">32</text>
</g>
<!-- H1 series -->
<g fill="none" stroke-width="1.5">
<path stroke="#f27080" d="M178,1642.8V1659.6M216.2,1644.9V1669.9M254.4,1638.6V1676.2M292.6,1637.6V1685.6M330.8,1656.4V1681.4M369,1656.3V1673.1M407.2,1637.6V1679.4M445.4,1650.1V1677.3"/>
<path stroke="#5aa8f5" d="M178,1636.5V1653.3M216.2,1638.6V1678.4M254.4,1648V1675.2M292.6,1654.3V1685.7M330.8,1669.9V1682.5M369,1665.8V1680.4M407.2,1638.6V1665.8M445.4,1641.7V1668.9"/>
<path stroke="#5147e8" d="M178,1624V1647M216.2,1604.1V1650.1M254.4,1612.6V1662.6M292.6,1575.9V1655.3M330.8,1602V1671M369,1585.3V1664.7M407.2,1563.4V1615.6M445.4,1524.8V1591.6"/>
</g>
<polyline fill="none" stroke="#f27080" stroke-width="2.5" points="178,1651.2 216.2,1657.4 254.4,1657.4 292.6,1661.6 330.8,1668.9 369,1664.7 407.2,1658.5 445.4,1663.7"/>
<polyline fill="none" stroke="#5aa8f5" stroke-width="2.5" points="178,1644.9 216.2,1658.5 254.4,1661.6 292.6,1670 330.8,1676.2 369,1673.1 407.2,1652.2 445.4,1655.3"/>
<polyline fill="none" stroke="#5147e8" stroke-width="2.5" points="178,1635.5 216.2,1627.1 254.4,1637.6 292.6,1615.6 330.8,1636.5 369,1625 407.2,1589.5 445.4,1558.2"/>
<g font-size="13"><text x="450" y="1664">***</text><text x="450" y="1678">***</text></g>
<!-- H2 series -->
<g fill="none" stroke-width="1.5">
<path stroke="#f27080" d="M650,1620.7V1643.5M687.6,1626.4V1660.6M725.1,1615V1669.2M762.7,1639.2V1682M800.3,1615V1680.6M837.9,1639.3V1676.3M875.4,1639.3V1676.3M913,1637.8V1672"/>
<path stroke="#5aa8f5" d="M650,1612.1V1634.9M687.6,1616.4V1653.4M725.1,1633.5V1662.1M762.7,1627.8V1656.4M800.3,1644.9V1664.9M837.9,1626.4V1649.2M875.4,1632.1V1654.9M913,1643.4V1660.6"/>
<path stroke="#5147e8" d="M650,1596.4V1627.8M687.6,1567.9V1630.7M725.1,1579.3V1650.7M762.7,1585V1656.4M800.3,1540.1V1624.1M837.9,1551.6V1635.6M875.4,1556.4V1627.8M913,1513.7V1622.1"/>
</g>
<polyline fill="none" stroke="#f27080" stroke-width="2.5" points="650,1632.1 687.6,1643.5 725.1,1642.1 762.7,1660.6 800.3,1647.8 837.9,1657.8 875.4,1657.8 913,1654.9"/>
<polyline fill="none" stroke="#5aa8f5" stroke-width="2.5" points="650,1623.5 687.6,1634.9 725.1,1647.8 762.7,1642.1 800.3,1654.9 837.9,1637.8 875.4,1643.5 913,1652"/>
<polyline fill="none" stroke="#5147e8" stroke-width="2.5" points="650,1612.1 687.6,1599.3 725.1,1615 762.7,1620.7 800.3,1582.1 837.9,1593.6 875.4,1592.1 913,1567.9"/>
<g font-size="13"><text x="918" y="1658">**</text><text x="918" y="1670">**</text></g>
<!-- I1 series -->
<g fill="none" stroke-width="1.5">
<path stroke="#f27080" d="M1170,1504V1523M1208,1526V1552M1246,1522V1552M1284,1533V1553M1322,1538V1553M1360,1546V1559M1398,1557V1565M1436,1558V1566"/>
<path stroke="#5aa8f5" d="M1170,1510V1532M1208,1522V1553M1246,1536V1556M1284,1536V1570M1322,1556V1565M1360,1555V1564M1398,1558V1566M1436,1557V1565"/>
<path stroke="#5147e8" d="M1170,1510V1534M1208,1503V1536M1246,1507V1556M1284,1510V1538M1322,1531V1554M1360,1531V1554M1398,1552V1564M1436,1554V1565"/>
</g>
<polyline fill="none" stroke="#f27080" stroke-width="2.5" points="1170,1513.7 1208,1535.7 1246,1537.4 1284,1543.4 1322,1545.9 1360,1552.7 1398,1561.2 1436,1562"/>
<polyline fill="none" stroke="#5aa8f5" stroke-width="2.5" points="1170,1521.3 1208,1537.4 1246,1545.9 1284,1552.7 1322,1560.3 1360,1559.5 1398,1562 1436,1561.2"/>
<polyline fill="none" stroke="#5147e8" stroke-width="2.5" points="1170,1522.2 1208,1519.6 1246,1531.5 1284,1523.9 1322,1542.5 1360,1542.5 1398,1557.8 1436,1559.5"/>
<g font-size="16"><text x="1446" y="1562">ns</text><text x="1446" y="1579">ns</text></g>
<!-- I2 series -->
<g fill="none" stroke-width="1.5">
<path stroke="#f27080" d="M1621,1508V1526M1659,1526V1543M1697,1524V1549M1735,1535V1551M1773,1535V1549M1811,1541V1553M1849,1537V1552M1887,1536V1553"/>
<path stroke="#5aa8f5" d="M1621,1505V1522M1659,1522V1549M1697,1534V1556M1735,1532V1560M1773,1536V1567M1811,1555V1566M1849,1553V1565M1887,1551V1563"/>
<path stroke="#5147e8" d="M1621,1503V1531M1659,1503V1533M1697,1518V1543M1735,1522V1544M1773,1510V1536M1811,1524V1548M1849,1534V1549M1887,1529V1550"/>
</g>
<polyline fill="none" stroke="#f27080" stroke-width="2.5" points="1621,1516.8 1659,1534.5 1697,1536.2 1735,1542.9 1773,1542.1 1811,1547.1 1849,1544.6 1887,1544.6"/>
<polyline fill="none" stroke="#5aa8f5" stroke-width="2.5" points="1621,1513.4 1659,1535.3 1697,1544.6 1735,1545.5 1773,1551.4 1811,1560.6 1849,1559 1887,1557.3"/>
<polyline fill="none" stroke="#5147e8" stroke-width="2.5" points="1621,1516.8 1659,1517.6 1697,1530.3 1735,1532.8 1773,1522.7 1811,1536.2 1849,1541.2 1887,1539.5"/>
<g font-size="16"><text x="1895" y="1547">ns</text><text x="1895" y="1567">ns</text></g>

<!-- ================= PANEL J (IHC) ================= -->
<text x="8" y="1782" font-size="22">J</text>
<text x="380" y="1830" font-size="17" text-anchor="middle">Nobiletin</text>
<path d="M175,1840H583" stroke="#000" stroke-width="2.5"/>
<g font-size="17" text-anchor="middle"><text x="217" y="1865">control</text><text x="378" y="1865">30 mg/kg</text><text x="537" y="1865">60 mg/kg</text></g>
<g font-size="18" text-anchor="end"><text x="120" y="1942">Bax</text><text x="120" y="2067">Ki67</text><text x="120" y="2192">ZIP8</text><text x="120" y="2319">p-CREB</text><text x="120" y="2445">GPX4</text></g>
<!-- Bax -->
<rect x="130" y="1872" width="161" height="121" fill="#c8cde2"/><rect x="130" y="1872" width="161" height="121" fill="url(#nBlue)" opacity="0.8"/>
<rect x="297" y="1872" width="161" height="121" fill="#dcdde6"/><rect x="297" y="1872" width="161" height="121" fill="url(#nLBlue)" opacity="0.75"/>
<rect x="463" y="1872" width="162" height="121" fill="#cdb996"/><rect x="463" y="1872" width="162" height="121" fill="url(#nLBlue)" opacity="0.65"/>
<!-- Ki67 -->
<rect x="130" y="1998" width="161" height="121" fill="#bcc0d6"/><rect x="130" y="1998" width="161" height="121" fill="url(#nBlue)"/><rect x="130" y="1998" width="161" height="121" fill="url(#nDark)" opacity="0.8"/>
<rect x="297" y="1998" width="161" height="121" fill="#cfc6aa"/><rect x="297" y="1998" width="161" height="121" fill="url(#nLBlue)" opacity="0.6"/><rect x="297" y="1998" width="161" height="121" fill="url(#nBrown)" opacity="0.9"/>
<rect x="463" y="1998" width="162" height="121" fill="#d2bf9a"/><rect x="463" y="1998" width="162" height="121" fill="url(#nOrange)" opacity="0.9"/>
<!-- ZIP8 -->
<rect x="130" y="2124" width="161" height="121" fill="#d8bd8e"/><rect x="130" y="2124" width="161" height="121" fill="url(#nTan)" opacity="0.55"/>
<rect x="297" y="2124" width="161" height="121" fill="#ccd0e4"/><rect x="297" y="2124" width="161" height="121" fill="url(#nBlue)" opacity="0.9"/>
<rect x="463" y="2124" width="162" height="121" fill="#dcdce4"/><rect x="463" y="2124" width="162" height="121" fill="url(#nLBlue)"/>
<!-- p-CREB -->
<rect x="130" y="2250" width="161" height="121" fill="#c49a5c"/><rect x="130" y="2250" width="161" height="121" fill="url(#nOrange)"/>
<rect x="297" y="2250" width="161" height="121" fill="#cbb890"/><rect x="297" y="2250" width="161" height="121" fill="url(#nOrange)" opacity="0.8"/>
<rect x="463" y="2250" width="162" height="121" fill="#c2b292"/><rect x="463" y="2250" width="162" height="121" fill="url(#nBrown)" opacity="0.75"/>
<!-- GPX4 -->
<rect x="130" y="2376" width="161" height="121" fill="#d6c8aa"/><rect x="130" y="2376" width="161" height="121" fill="url(#nBlue)" opacity="0.65"/>
<rect x="297" y="2376" width="161" height="121" fill="#b4b8d6"/><rect x="297" y="2376" width="161" height="121" fill="url(#nBlue)"/>
<rect x="463" y="2376" width="162" height="121" fill="#bec0d8"/><rect x="463" y="2376" width="162" height="121" fill="url(#nBlue)"/>
<path d="M258,1986h23M425,1986h23M591,1986h23M258,2112h23M425,2112h23M591,2112h23M258,2238h23M425,2238h23M591,2238h23M258,2364h23M425,2364h23M591,2364h23M258,2490h23M425,2490h23M591,2490h23" stroke="#000" stroke-width="2"/>

<!-- ================= PANEL J (bars) ================= -->
<g font-size="17" text-anchor="middle"><text x="785" y="1840">Bax</text><text x="1053" y="1840">Ki67</text><text x="1318" y="1840">ZIP8</text><text x="1571" y="1840">p-CREB</text><text x="1829" y="1840">GPX4</text>
<text transform="translate(675,1990) rotate(-90)">IOD SUM (*10⁴)</text>
<text transform="translate(924,1980) rotate(-90)">Ki67 postive cells (%)</text>
<text transform="translate(1189,1995) rotate(-90)">IOD SUM (*10⁴)</text>
<text transform="translate(1449,1980) rotate(-90)">IOD SUM (*10⁴)</text>
<text transform="translate(1706,1990) rotate(-90)">IOD SUM (*10⁴)</text></g>
<g fill="#fff" stroke-width="2.5">
<rect x="737.5" y="2006.4" width="29" height="71.6" stroke="#8ec0f2"/>
<rect x="783.5" y="1973" width="29" height="105" stroke="#f2b872"/>
<rect x="829.5" y="1924.1" width="29" height="153.9" stroke="#d4d4d4"/>
<rect x="990.5" y="1924.9" width="29" height="153.1" stroke="#8ec0f2"/>
<rect x="1039.5" y="1955.2" width="29" height="122.8" stroke="#f2b872"/>
<rect x="1089.5" y="1978.3" width="29" height="99.7" stroke="#d4d4d4"/>
<rect x="1255.5" y="1908.8" width="29" height="169.2" stroke="#8ec0f2"/>
<rect x="1302.5" y="1966" width="29" height="112" stroke="#f2b872"/>
<rect x="1349.5" y="1998.6" width="29" height="79.4" stroke="#d4d4d4"/>
<rect x="1513.5" y="1904.3" width="29" height="175.7" stroke="#8ec0f2"/>
<rect x="1560.5" y="1980.3" width="29" height="99.7" stroke="#f2b872"/>
<rect x="1605.5" y="2018.3" width="29" height="61.7" stroke="#d4d4d4"/>
<rect x="1771.5" y="1921.3" width="29" height="158.7" stroke="#8ec0f2"/>
<rect x="1819.5" y="1973.8" width="29" height="106.2" stroke="#f2b872"/>
<rect x="1865.5" y="1997.7" width="29" height="82.3" stroke="#d4d4d4"/>
</g>
<g fill="none" stroke-width="2">
<path stroke="#6aa8e8" d="M752,2000V2013M747,2000h10M747,2013h10M1005,1916V1934M1000,1916h10M1000,1934h10M1270,1900V1918M1265,1900h10M1265,1918h10M1528,1898V1911M1523,1898h10M1523,1911h10M1786,1910V1932M1781,1910h10M1781,1932h10"/>
<path stroke="#e8a050" d="M798,1966V1980M793,1966h10M793,1980h10M1054,1950V1961M1049,1950h10M1049,1961h10M1317,1958V1975M1312,1958h10M1312,1975h10M1575,1967V1995M1570,1967h10M1570,1995h10M1834,1962V1985M1829,1962h10M1829,1985h10"/>
<path stroke="#c4c4c4" d="M844,1918V1930M839,1918h10M839,1930h10M1104,1971V1986M1099,1971h10M1099,1986h10M1364,1992V2006M1359,1992h10M1359,2006h10M1620,2004V2030M1615,2004h10M1615,2030h10M1880,1990V2008M1875,1990h10M1875,2008h10"/>
</g>
<g fill="#8ec0f2"><circle cx="744" cy="2004" r="2.5"/><circle cx="750" cy="2010" r="2.5"/><circle cx="756" cy="2006" r="2.5"/><circle cx="760" cy="2002" r="2.5"/><circle cx="748" cy="1999" r="2.5"/><circle cx="754" cy="2013" r="2.5"/>
<circle cx="998" cy="1918" r="2.5"/><circle cx="1004" cy="1930" r="2.5"/><circle cx="1010" cy="1922" r="2.5"/><circle cx="1002" cy="1940" r="2.5"/><circle cx="1008" cy="1912" r="2.5"/><circle cx="1000" cy="1908" r="2.5"/><circle cx="1012" cy="1934" r="2.5"/>
<circle cx="1262" cy="1904" r="2.5"/><circle cx="1268" cy="1914" r="2.5"/><circle cx="1274" cy="1900" r="2.5"/><circle cx="1278" cy="1910" r="2.5"/><circle cx="1266" cy="1924" r="2.5"/><circle cx="1272" cy="1918" r="2.5"/>
<circle cx="1520" cy="1902" r="2.5"/><circle cx="1526" cy="1908" r="2.5"/><circle cx="1532" cy="1898" r="2.5"/><circle cx="1536" cy="1906" r="2.5"/><circle cx="1528" cy="1912" r="2.5"/>
<circle cx="1778" cy="1916" r="2.5"/><circle cx="1784" cy="1926" r="2.5"/><circle cx="1790" cy="1912" r="2.5"/><circle cx="1794" cy="1922" r="2.5"/><circle cx="1782" cy="1934" r="2.5"/><circle cx="1788" cy="1906" r="2.5"/></g>
<g fill="#f2b872"><circle cx="790" cy="1968" r="2.5"/><circle cx="796" cy="1976" r="2.5"/><circle cx="802" cy="1970" r="2.5"/><circle cx="806" cy="1979" r="2.5"/><circle cx="794" cy="1983" r="2.5"/><circle cx="800" cy="1964" r="2.5"/>
<circle cx="1046" cy="1950" r="2.5"/><circle cx="1052" cy="1958" r="2.5"/><circle cx="1058" cy="1948" r="2.5"/><circle cx="1062" cy="1956" r="2.5"/><circle cx="1050" cy="1962" r="2.5"/><circle cx="1056" cy="1944" r="2.5"/>
<circle cx="1309" cy="1960" r="2.5"/><circle cx="1315" cy="1970" r="2.5"/><circle cx="1321" cy="1956" r="2.5"/><circle cx="1325" cy="1966" r="2.5"/><circle cx="1313" cy="1980" r="2.5"/><circle cx="1319" cy="1976" r="2.5"/>
<circle cx="1567" cy="1975" r="2.5"/><circle cx="1573" cy="1985" r="2.5"/><circle cx="1579" cy="1968" r="2.5"/><circle cx="1583" cy="1980" r="2.5"/><circle cx="1571" cy="1992" r="2.5"/><circle cx="1577" cy="1962" r="2.5"/>
<circle cx="1826" cy="1968" r="2.5"/><circle cx="1832" cy="1978" r="2.5"/><circle cx="1838" cy="1962" r="2.5"/><circle cx="1842" cy="1974" r="2.5"/><circle cx="1830" cy="1986" r="2.5"/></g>
<g fill="#cfcfcf"><circle cx="836" cy="1920" r="2.5"/><circle cx="842" cy="1928" r="2.5"/><circle cx="848" cy="1918" r="2.5"/><circle cx="852" cy="1926" r="2.5"/><circle cx="840" cy="1932" r="2.5"/><circle cx="846" cy="1914" r="2.5"/>
<circle cx="1096" cy="1974" r="2.5"/><circle cx="1102" cy="1982" r="2.5"/><circle cx="1108" cy="1970" r="2.5"/><circle cx="1112" cy="1980" r="2.5"/><circle cx="1100" cy="1988" r="2.5"/><circle cx="1106" cy="1964" r="2.5"/>
<circle cx="1356" cy="1994" r="2.5"/><circle cx="1362" cy="2002" r="2.5"/><circle cx="1368" cy="1990" r="2.5"/><circle cx="1372" cy="2000" r="2.5"/><circle cx="1360" cy="2008" r="2.5"/><circle cx="1366" cy="1986" r="2.5"/>
<circle cx="1612" cy="2014" r="2.5"/><circle cx="1618" cy="2022" r="2.5"/><circle cx="1624" cy="2008" r="2.5"/><circle cx="1628" cy="2018" r="2.5"/><circle cx="1616" cy="2032" r="2.5"/><circle cx="1622" cy="2000" r="2.5"/>
<circle cx="1872" cy="1994" r="2.5"/><circle cx="1878" cy="2002" r="2.5"/><circle cx="1884" cy="1990" r="2.5"/><circle cx="1888" cy="2000" r="2.5"/><circle cx="1876" cy="2010" r="2.5"/><circle cx="1882" cy="1984" r="2.5"/></g>
<g stroke="#000" fill="none" stroke-width="2.5">
<path d="M718,1897V2080M712,2078h6M712,2018.3h6M712,1958.7h6M712,1899h6"/>
<path d="M714,2078H879" stroke-width="3.5"/><path d="M752,2078v10M798,2078v10M844,2078v10"/>
<path d="M967,1897V2080M961,2078h6M961,2042.4h6M961,2006.8h6M961,1971.2h6M961,1935.6h6M961,1900h6"/>
<path d="M963,2078H1134" stroke-width="3.5"/><path d="M1005,2078v10M1054,2078v10M1104,2078v10"/>
<path d="M1232,1900V2080M1226,2078h6M1226,2019.7h6M1226,1961.3h6M1226,1903h6"/>
<path d="M1228,2078H1396" stroke-width="3.5"/><path d="M1270,2078v10M1317,2078v10M1364,2078v10"/>
<path d="M1486,1899V2082M1480,2080h6M1480,2020.7h6M1480,1961.3h6M1480,1902h6"/>
<path d="M1481,2080H1651" stroke-width="3.5"/><path d="M1528,2080v10M1575,2080v10M1620,2080v10"/>
<path d="M1749,1898V2082M1743,2080h6M1743,2020.4h6M1743,1960.7h6M1743,1901h6"/>
<path d="M1743,2080H1914" stroke-width="3.5"/><path d="M1786,2080v10M1834,2080v10M1880,2080v10"/>
<path d="M750,1957H790M752,1902H840M1008,1898H1046M1008,1881H1099M1271,1886H1310M1275,1868H1365M1525,1887H1563M1529,1869H1619M1786,1889H1825M1790,1869H1880" stroke-width="2.5"/>
</g>
<g font-size="15" text-anchor="middle"><text x="770" y="1958">*</text><text x="796" y="1901">**</text><text x="1027" y="1898">*</text><text x="1053" y="1880">**</text><text x="1290" y="1886">*</text><text x="1320" y="1867">**</text><text x="1544" y="1887">*</text><text x="1574" y="1868">**</text><text x="1805" y="1889">*</text><text x="1835" y="1868">**</text></g>
<g font-size="16" text-anchor="end"><text x="709" y="2084">0</text><text x="709" y="2024">5</text><text x="709" y="1964">10</text><text x="709" y="1905">15</text>
<text x="958" y="2084">0</text><text x="958" y="2048">20</text><text x="958" y="2012">40</text><text x="958" y="1977">60</text><text x="958" y="1941">80</text><text x="958" y="1906">100</text>
<text x="1223" y="2084">0</text><text x="1223" y="2025">5</text><text x="1223" y="1967">10</text><text x="1223" y="1909">15</text>
<text x="1477" y="2086">0</text><text x="1477" y="2026">5</text><text x="1477" y="1967">10</text><text x="1477" y="1908">15</text>
<text x="1740" y="2086">0</text><text x="1740" y="2026">5</text><text x="1740" y="1966">10</text><text x="1740" y="1907">15</text></g>
<g font-size="16" text-anchor="end">
<text transform="translate(758,2098) rotate(-45)">control</text><text transform="translate(805,2098) rotate(-45)">30 mg/kg</text><text transform="translate(852,2098) rotate(-45)">60 mg/kg</text>
<text transform="translate(1011,2098) rotate(-45)">control</text><text transform="translate(1061,2098) rotate(-45)">30 mg/kg</text><text transform="translate(1112,2098) rotate(-45)">60 mg/kg</text>
<text transform="translate(1276,2098) rotate(-45)">control</text><text transform="translate(1324,2098) rotate(-45)">30 mg/kg</text><text transform="translate(1372,2098) rotate(-45)">60 mg/kg</text>
<text transform="translate(1534,2100) rotate(-45)">control</text><text transform="translate(1582,2100) rotate(-45)">30 mg/kg</text><text transform="translate(1628,2100) rotate(-45)">60 mg/kg</text>
<text transform="translate(1792,2100) rotate(-45)">control</text><text transform="translate(1841,2100) rotate(-45)">30 mg/kg</text><text transform="translate(1888,2100) rotate(-45)">60 mg/kg</text>
</g>
</svg>
</body></html>
